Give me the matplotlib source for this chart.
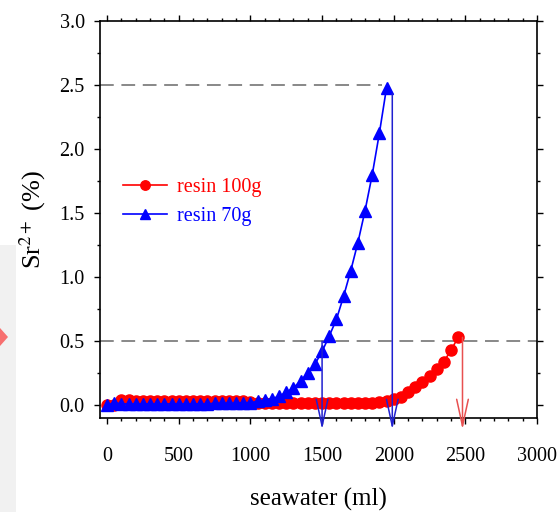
import matplotlib
matplotlib.use('Agg')
import matplotlib.pyplot as plt
from matplotlib.patches import Rectangle, Polygon

# 数据
x_100g = [0, 50, 100, 150, 200, 250, 300, 350, 400, 450,
          500, 550, 600, 650, 700, 750, 800, 850, 900, 950,
          1000, 1050, 1100, 1150, 1200, 1250, 1300, 1350, 1400, 1450,
          1500, 1550, 1600, 1650, 1700, 1750, 1800, 1850, 1900, 1950,
          2000, 2050, 2100, 2150, 2200, 2250, 2300, 2350, 2400, 2450]
sr_100g = [0.00, 0.00, 0.04, 0.04, 0.035, 0.035, 0.03, 0.03, 0.03, 0.03,
           0.03, 0.03, 0.03, 0.03, 0.03, 0.03, 0.03, 0.03, 0.03, 0.03,
           0.025, 0.02, 0.02, 0.02, 0.02, 0.02, 0.02, 0.02, 0.02, 0.02,
           0.02, 0.02, 0.02, 0.02, 0.02, 0.02, 0.02, 0.02, 0.025, 0.03,
           0.045, 0.066, 0.10, 0.14, 0.18, 0.225, 0.28, 0.34, 0.43, 0.53]

x_70g = [0, 50, 100, 150, 200, 250, 300, 350, 400, 450,
         500, 550, 600, 650, 700, 750, 800, 850, 900, 950,
         1000, 1050, 1100, 1150, 1200, 1250, 1300, 1350, 1400, 1450,
         1500, 1550, 1600, 1650, 1700, 1750, 1800, 1850, 1900, 1950]
sr_70g = [0.0, 0.02, 0.01, 0.01, 0.01, 0.01, 0.01, 0.01, 0.01, 0.01,
          0.01, 0.01, 0.01, 0.01, 0.01, 0.015, 0.015, 0.015, 0.015, 0.02,
          0.02, 0.03, 0.04, 0.05, 0.07, 0.10, 0.135, 0.19, 0.25, 0.32,
          0.42, 0.54, 0.67, 0.85, 1.05, 1.27, 1.52, 1.80, 2.125, 2.48]

# 箭头: (x, 起点y, 颜色)
arrows = [(1500, 0.5, '#2020d0'), (1990, 2.43, '#2020d0'), (2480, 0.53, '#e85050')]
arrow_end = -0.19

plt.rcParams['font.family'] = ['Liberation Serif', 'DejaVu Serif']
plt.rcParams['mathtext.fontset'] = 'stix'

fig = plt.figure(figsize=(5.59, 5.12), dpi=100)

# 左侧灰条和粉色菱形 (幻灯片背景)
fig.patches.append(Rectangle((0, 0), 16 / 559, 1 - 245 / 512, transform=fig.transFigure,
                             facecolor='#f1f1f1', edgecolor='none', zorder=0))
fig.patches.append(Polygon([(0, 1 - 328 / 512), (8 / 559, 1 - 337 / 512), (0, 1 - 346 / 512)],
                           closed=True, transform=fig.transFigure,
                           facecolor='#f76f6f', edgecolor='none', zorder=1))

ax = fig.add_axes([100 / 559, 1 - 418 / 512, 437 / 559, 397 / 512])
ax.set_facecolor('none')

# 虚线
ax.plot([-50, 1920], [2.5, 2.5], color='#686868', lw=1.1, dashes=(9, 5))
ax.plot([-50, 3000], [0.5, 0.5], color='#686868', lw=1.1, dashes=(9, 5))

ax.plot(x_100g, sr_100g, color='red', marker='o', markersize=8, lw=1.2, label='resin 100g')
ax.plot(x_70g, sr_70g, color='blue', marker='^', markersize=8.5, lw=1.2, label='resin 70g')

for xa, ya, c in arrows:
    ax.annotate('', xy=(xa, arrow_end), xytext=(xa, ya), annotation_clip=False,
                arrowprops=dict(arrowstyle='->,head_length=1.6,head_width=0.35',
                                color=c, lw=1.1, mutation_scale=12, shrinkA=0, shrinkB=0))

ax.set_xlim(-50, 3000)
ax.set_ylim(-0.1, 3.0)
ax.set_xticks([0, 500, 1000, 1500, 2000, 2500, 3000])
ax.set_xticks(range(0, 3001, 100), minor=True)
ax.set_yticks([0.0, 0.5, 1.0, 1.5, 2.0, 2.5, 3.0])
ax.set_yticks([0.25, 0.75, 1.25, 1.75, 2.25, 2.75], minor=True)
ax.set_yticklabels(['0.0', '0.5', '1.0', '1.5', '2.0', '2.5', '3.0'])
ax.tick_params(which='both', direction='out', top=True, right=True, labelsize=14.5, width=1)
ax.tick_params(which='major', length=4)
ax.tick_params(which='minor', length=2.5)
ax.tick_params(axis='x', which='major', pad=17)
ax.tick_params(axis='y', which='major', pad=7)
for s in ax.spines.values():
    s.set_linewidth(1.2)

ax.set_xlabel('seawater (ml)', fontsize=18, labelpad=16)
ax.set_ylabel('Sr$^{2+}$ (%)', fontsize=19, labelpad=8)

leg = ax.legend(loc='upper left', bbox_to_anchor=(0.052, 0.605), frameon=False,
                fontsize=14.5, handlelength=2.2, handletextpad=0.5, labelspacing=0.48,
                borderpad=0, borderaxespad=0, markerscale=0.85)
for t, c in zip(leg.get_texts(), ['red', 'blue']):
    t.set_color(c)

plt.savefig('out.png', dpi=100)
